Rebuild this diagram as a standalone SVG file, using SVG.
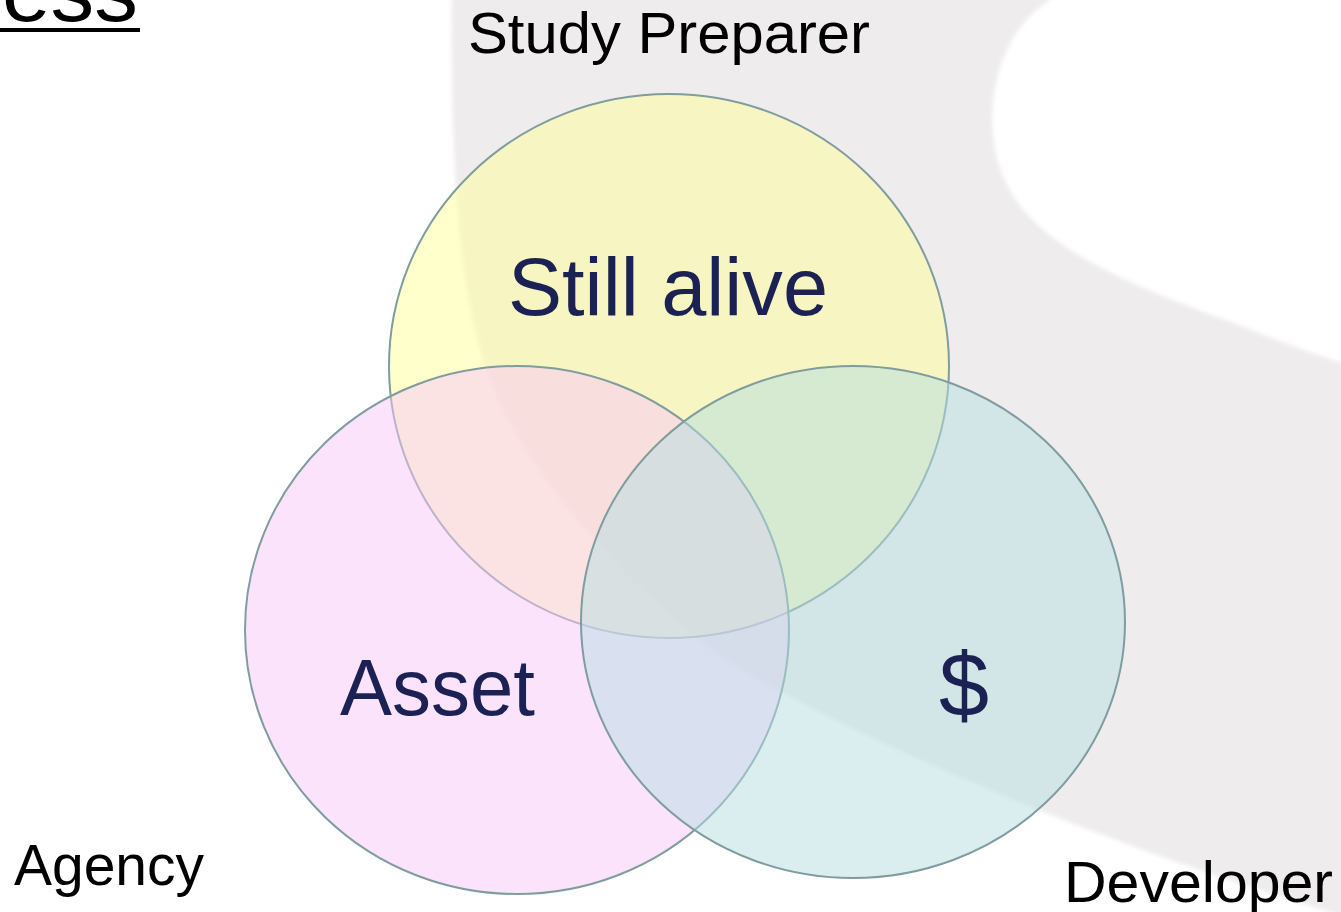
<svg xmlns="http://www.w3.org/2000/svg" width="1341" height="912" viewBox="0 0 1341 912">
  <defs>
    <filter id="soft" x="-10%" y="-10%" width="120%" height="120%">
      <feGaussianBlur stdDeviation="2"/>
    </filter>
    <style>
      .lbl { font-family: "Liberation Sans", Arial, sans-serif; fill: #000000; }
      .inner { font-family: "Liberation Sans", Arial, sans-serif; fill: #1B2152; }
      .set { stroke: #7F9C9E; stroke-width: 2; }
    </style>
  </defs>
  <rect x="0" y="0" width="1341" height="912" fill="#FFFFFF"/>
  <g id="background">
    <path d="M452,-20 C450,180 460,300 490,380 C515,450 620,600 760,680 C900,760 1150,860 1341,915 L1400,940 L1400,-20 Z" fill="#EEECED" filter="url(#soft)"/>
    <path d="M1055,-20 L1050,0 C1000,30 985,100 995,150 C1010,230 1090,270 1217,317 C1260,333 1300,350 1341,363 L1400,380 L1400,-20 Z" fill="#FFFFFF" filter="url(#soft)"/>
  </g>
  <g id="title-fragment">
    <text class="lbl" x="2" y="21" font-size="86" textLength="136" lengthAdjust="spacingAndGlyphs">ess</text>
    <rect x="0" y="28" width="140" height="4" fill="#000000"/>
  </g>
  <g id="node-study-preparer">
    <ellipse class="set" cx="669" cy="366" rx="280" ry="272" fill="#FFFF99" fill-opacity="0.5"/>
    <text class="inner" x="508" y="315" font-size="81" textLength="320" lengthAdjust="spacingAndGlyphs">Still alive</text>
  </g>
  <g id="node-agency">
    <ellipse class="set" cx="517" cy="630" rx="272" ry="264" fill="#FAC8FA" fill-opacity="0.5"/>
    <text class="inner" x="340" y="715" font-size="80" textLength="195" lengthAdjust="spacingAndGlyphs">Asset</text>
  </g>
  <g id="node-developer">
    <ellipse class="set" cx="853" cy="622" rx="272" ry="256" fill="#B5DDE1" fill-opacity="0.5"/>
    <text class="inner" x="964" y="716" font-size="90" text-anchor="middle">$</text>
  </g>
  <g id="connectors"/>
  <g id="labels">
    <text class="lbl" x="468" y="53" font-size="58" textLength="402" lengthAdjust="spacingAndGlyphs">Study Preparer</text>
    <text class="lbl" x="14" y="885" font-size="58" textLength="190" lengthAdjust="spacingAndGlyphs">Agency</text>
    <text class="lbl" x="1064" y="902" font-size="58" textLength="269" lengthAdjust="spacingAndGlyphs">Developer</text>
  </g>
</svg>
